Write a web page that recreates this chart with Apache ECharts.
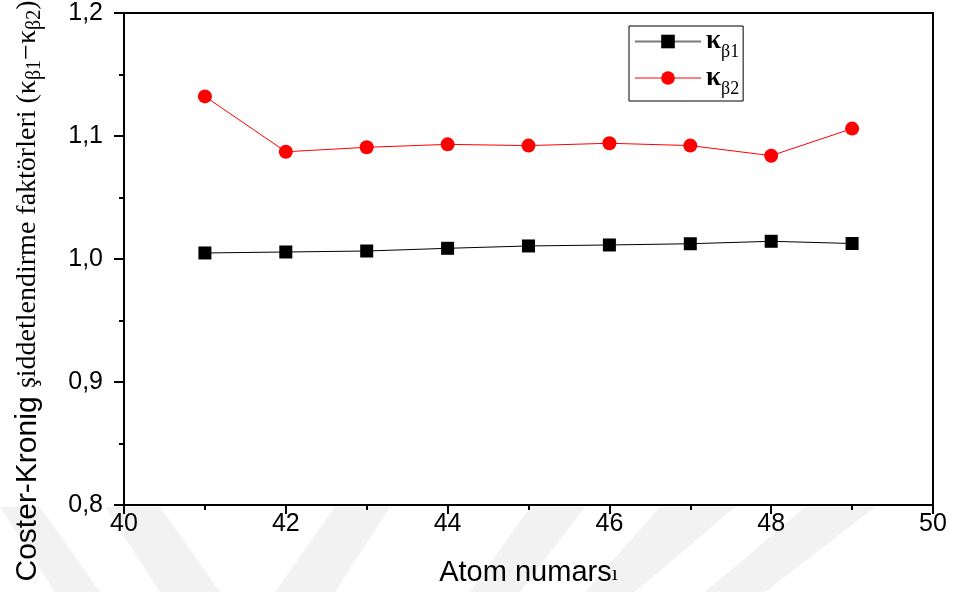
<!DOCTYPE html>
<html>
<head>
<meta charset="utf-8">
<script src="https://cdn.jsdelivr.net/npm/echarts@6/dist/echarts.min.js"></script>
<style>
html,body{margin:0;padding:0;background:#fff;}
#chart{width:954px;height:592px;}
</style>
</head>
<body>
<div id="chart"></div>
<script>
// Data
var atomNumbers = [41, 42, 43, 44, 45, 46, 47, 48, 49];
var kappaBeta1 = [1.0049, 1.0057, 1.0065, 1.0087, 1.0106, 1.0114, 1.0124, 1.0144, 1.0126];
var kappaBeta2 = [1.1322, 1.0872, 1.0908, 1.0932, 1.0922, 1.0941, 1.0922, 1.0840, 1.1060];
var seriesNames = ['κβ1', 'κβ2'];
var legendLabels = {'κβ1': '{k|κ}{s|β1}', 'κβ2': '{k|κ}{s|β2}'};
var yTickLabels = {'0.8': '0,8', '0.9': '0,9', '1': '1,0', '1.0': '1,0', '1.1': '1,1', '1.2': '1,2'};

function pairs(xs, ys) { return xs.map(function (x, i) { return [x, ys[i]]; }); }

var chart = echarts.init(document.getElementById('chart'), null, {renderer: 'canvas'});

var wm = '#f2f2f2';
function band(pts) {
  return {type: 'polygon', z: -10, silent: true, shape: {points: pts}, style: {fill: wm}};
}

var option = {
  backgroundColor: '#ffffff',
  animation: false,
  grid: {left: 124, right: 21, top: 13, bottom: 86, show: true, borderColor: '#000', borderWidth: 2, backgroundColor: 'transparent'},
  graphic: [
    band([[0, 507], [40, 507], [100, 592], [55, 592]]),
    band([[105, 507], [160, 507], [220, 592], [160, 592]]),
    band([[335, 507], [390, 507], [335, 592], [275, 592]]),
    band([[530, 507], [585, 507], [520, 592], [470, 592]]),
    band([[660, 507], [735, 507], [635, 592], [585, 592]]),
    band([[805, 507], [875, 507], [765, 592], [705, 592]]),
    {
      type: 'text', x: 28, y: 291, rotation: Math.PI / 2, z: 10,
      style: {
        text: '{a|Coster-Kronig }{b|şiddetlendirme faktörleri (κ}{s|β1}{b|−κ}{s|β2}{b|)}',
        align: 'center', verticalAlign: 'middle',
        rich: {
          a: {fontFamily: 'Liberation Sans', fontSize: 30, lineHeight: 34, fill: '#000', verticalAlign: 'middle'},
          b: {fontFamily: 'Liberation Serif', fontSize: 28, lineHeight: 34, fill: '#000', verticalAlign: 'middle'},
          s: {fontFamily: 'Liberation Serif', fontSize: 20, lineHeight: 20, fill: '#000', verticalAlign: 'bottom'}
        }
      }
    }
  ],
  legend: {
    orient: 'vertical',
    left: 629, top: 26,
    padding: [2, 4, 3, 5],
    itemWidth: 66, itemHeight: 17, itemGap: 3,
    borderColor: '#000', borderWidth: 1,
    backgroundColor: '#fff',
    data: [
      {name: seriesNames[0], lineStyle: {color: '#7a7a7a', width: 2}},
      {name: seriesNames[1], lineStyle: {color: '#ff8080', width: 2}}
    ],
    formatter: function (n) { return legendLabels[n]; },
    textStyle: {
      rich: {
        k: {fontFamily: 'Liberation Serif', fontSize: 27, fontWeight: 'bold', lineHeight: 26, color: '#000', verticalAlign: 'middle'},
        s: {fontFamily: 'Liberation Serif', fontSize: 18, lineHeight: 18, color: '#000', verticalAlign: 'bottom', padding: [0, 0, -7, 0]}
      }
    }
  },
  xAxis: {
    type: 'value', min: 40, max: 50, interval: 2,
    name: '{a|Atom numars}{b|ı}',
    nameLocation: 'middle', nameGap: 51,
    nameTextStyle: {
      rich: {
        a: {fontFamily: 'Liberation Sans', fontSize: 29, lineHeight: 31, color: '#000', verticalAlign: 'bottom'},
        b: {fontFamily: 'Liberation Serif', fontSize: 22, lineHeight: 22, color: '#000', verticalAlign: 'bottom', padding: [0, 0, 2, 0]}
      }
    },
    axisLine: {show: true, onZero: false, lineStyle: {color: '#000', width: 2}},
    axisTick: {show: true, inside: false, length: 9, lineStyle: {color: '#000', width: 2}},
    minorTick: {show: true, splitNumber: 2, length: 5, lineStyle: {color: '#000', width: 2}},
    axisLabel: {color: '#000', fontFamily: 'Liberation Sans', fontSize: 25, margin: 7},
    splitLine: {show: false}
  },
  yAxis: {
    type: 'value', min: 0.8, max: 1.2, interval: 0.1,
    axisLine: {show: true, onZero: false, lineStyle: {color: '#000', width: 2}},
    axisTick: {show: true, inside: false, length: 10, lineStyle: {color: '#000', width: 2}},
    minorTick: {show: true, splitNumber: 2, length: 5, lineStyle: {color: '#000', width: 2}},
    axisLabel: {
      color: '#000', fontFamily: 'Liberation Sans', fontSize: 25, margin: 21,
      formatter: function (v) { var k = (Math.round(v * 10) / 10).toString(); return yTickLabels[k] || k.replace('.', ','); }
    },
    splitLine: {show: false}
  },
  series: [
    {
      name: seriesNames[0], type: 'line', data: pairs(atomNumbers, kappaBeta1),
      symbol: 'rect', symbolSize: 13,
      itemStyle: {color: '#000'},
      lineStyle: {color: '#000', width: 1}
    },
    {
      name: seriesNames[1], type: 'line', data: pairs(atomNumbers, kappaBeta2),
      symbol: 'circle', symbolSize: 14,
      itemStyle: {color: '#ff0000'},
      lineStyle: {color: '#ff0000', width: 1}
    }
  ]
};
chart.setOption(option);
</script>
</body>
</html>
